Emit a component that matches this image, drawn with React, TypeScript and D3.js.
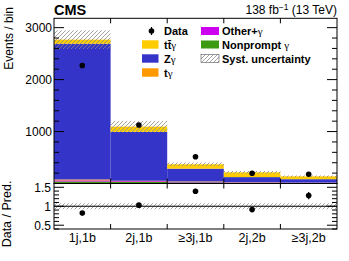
import React from 'react';
import * as d3 from 'd3';

// bins
const categories = ['1j,1b', '2j,1b', '\u22653j,1b', '2j,2b', '\u22653j,2b'];

// stacked predictions, bottom to top
const nonprompt = [38, 30, 22, 15, 10];
const otherG = [22, 15, 10, 7, 5];
const tG = [18, 8, 8, 4, 3];
const zG = [2612, 942, 246, 97, 65];
const ttG = [80, 100, 84, 92, 55];

const dataCounts = [2270, 1127, 516, 196, 177];
const systRel = [0.065, 0.1, 0.1, 0.12, 0.12];

const yTickLabels = [1000, 2000, 3000];
const ratioTickLabels = [0.5, 1, 1.5];

const keys = ['nonprompt', 'other', 'tg', 'zg', 'ttg'];
const colors: Record<string, string> = {
  nonprompt: '#3c9a12',
  other: '#cc00ee',
  tg: '#ff9900',
  zg: '#3434c8',
  ttg: '#ffcc00',
};

const W = 349, H = 261;
const L = 54, R = 337, T = 18.3, MID = 183.5, B = 229;

export default function App() {
  const x = d3.scaleBand<string>().domain(categories).range([L, R]).padding(0);
  const y = d3.scaleLinear().domain([0, 3180]).range([MID, T]);
  const yr = d3.scaleLinear().domain([0.4, 1.6]).range([B, MID]);

  const rows = categories.map((c, i) => ({
    cat: c,
    nonprompt: nonprompt[i],
    other: otherG[i],
    tg: tG[i],
    zg: zG[i],
    ttg: ttG[i],
  }));
  const series = d3.stack<any>().keys(keys)(rows);
  const totals = rows.map((r) => keys.reduce((s, k) => s + r[k], 0));

  const bw = x.bandwidth();
  const font = 'Liberation Sans, Arial, Helvetica, sans-serif';
  const gam = (s: string) => (
    <tspan fontFamily="Liberation Serif, serif" fontWeight="normal">{s}</tspan>
  );

  // ticks
  const upMinor = d3.range(0, 3180, 200);
  const upMajor = [0, 1000, 2000, 3000];
  const rMinor = d3.range(0.4, 1.61, 0.1);
  const edges = categories.slice(1).map((c) => x(c) as number);

  const legend1 = [
    { label: 'tt\u0304', g: '\u03b3', color: colors.ttg },
    { label: 'Z', g: '\u03b3', color: colors.zg },
    { label: 't', g: '\u03b3', color: colors.tg },
  ];
  const legend2 = [
    { label: 'Other+', g: '\u03b3', color: colors.other },
    { label: 'Nonprompt  ', g: '\u03b3', color: colors.nonprompt },
    { label: 'Syst. uncertainty', g: '', color: 'url(#hatch)' },
  ];
  const rowY = [31, 44.5, 58.5, 72.5];

  return (
    <svg width={W} height={H} style={{ position: 'absolute', left: 0, top: 0, background: '#fff' }} fontFamily={font}>
      <defs>
        <pattern id="hatch" patternUnits="userSpaceOnUse" width="4" height="4">
          <path d="M-1,1 l2,-2 M0,4 l4,-4 M3,5 l2,-2" stroke="#8a8a8a" strokeWidth="0.8" />
        </pattern>
        <clipPath id="upclip"><rect x={L} y={T} width={R - L} height={MID - T} /></clipPath>
        <clipPath id="rclip"><rect x={L} y={MID} width={R - L} height={B - MID} /></clipPath>
      </defs>

      {/* stacked histograms */}
      <g clipPath="url(#upclip)">
        {series.map((s) => (
          <g key={s.key} fill={colors[s.key]}>
            {s.map((d, i) => (
              <rect key={i} x={x(categories[i])} width={bw} y={y(d[1])} height={y(d[0]) - y(d[1])} />
            ))}
          </g>
        ))}
        {totals.map((t, i) => (
          <rect key={'u' + i} x={x(categories[i])} width={bw}
            y={y(t * (1 + systRel[i]))} height={y(t * (1 - systRel[i])) - y(t * (1 + systRel[i]))}
            fill="url(#hatch)" />
        ))}
      </g>

      {/* data points */}
      {dataCounts.map((d, i) => {
        const cx = (x(categories[i]) as number) + bw / 2;
        const e = Math.sqrt(d);
        return (
          <g key={'d' + i}>
            <line x1={cx} x2={cx} y1={y(d - e)} y2={y(d + e)} stroke="#000" strokeWidth={1.2} />
            <circle cx={cx} cy={y(d)} r={2.8} fill="#000" />
          </g>
        );
      })}

      {/* ratio pad */}
      <g clipPath="url(#rclip)">
        <rect x={L} width={R - L} y={yr(1 + 0.08)} height={yr(0.92) - yr(1.08)} fill="url(#hatch)" />
        <line x1={L} x2={R} y1={yr(1)} y2={yr(1)} stroke="#000" strokeWidth={1} />
      </g>
      {dataCounts.map((d, i) => {
        const cx = (x(categories[i]) as number) + bw / 2;
        const r = d / totals[i];
        const e = Math.sqrt(d) / totals[i];
        return (
          <g key={'r' + i}>
            <line x1={cx} x2={cx} y1={yr(r - e)} y2={yr(r + e)} stroke="#000" strokeWidth={1.2} />
            <circle cx={cx} cy={yr(r)} r={2.8} fill="#000" />
          </g>
        );
      })}

      {/* frames */}
      <g stroke="#000" strokeWidth={1} fill="none">
        <rect x={L} y={T} width={R - L} height={MID - T} />
        <rect x={L} y={MID} width={R - L} height={B - MID} />
        {upMinor.map((v) => {
          const len = upMajor.includes(v) ? 10 : 5;
          return (
            <g key={'ut' + v}>
              <line x1={L} x2={L + len} y1={y(v)} y2={y(v)} />
              <line x1={R} x2={R - len} y1={y(v)} y2={y(v)} />
            </g>
          );
        })}
        {rMinor.map((v, i) => {
          const major = Math.abs(v * 2 - Math.round(v * 2)) < 1e-6;
          const len = major ? 10 : 5;
          return (
            <g key={'rt' + i}>
              <line x1={L} x2={L + len} y1={yr(v)} y2={yr(v)} />
              <line x1={R} x2={R - len} y1={yr(v)} y2={yr(v)} />
            </g>
          );
        })}
        {edges.map((ex) => (
          <g key={'e' + ex}>
            <line x1={ex} x2={ex} y1={T} y2={T + 5} />
            <line x1={ex} x2={ex} y1={MID - 5} y2={MID + 5} />
            <line x1={ex} x2={ex} y1={B} y2={B - 5} />
          </g>
        ))}
      </g>

      {/* tick labels */}
      <g fontSize={12} textAnchor="end">
        {yTickLabels.map((v) => (
          <text key={v} x={L - 2} y={y(v) + 4.3}>{v}</text>
        ))}
        {ratioTickLabels.map((v) => (
          <text key={v} x={L - 3} y={yr(v) + 4.3}>{v}</text>
        ))}
      </g>
      <g fontSize={12.5} textAnchor="middle">
        {categories.map((c) => (
          <text key={c} x={(x(c) as number) + bw / 2} y={241.5}>{c}</text>
        ))}
      </g>

      {/* axis titles */}
      <text transform="translate(13,7) rotate(-90)" textAnchor="end" fontSize={12}>Events / bin</text>
      <text transform="translate(10.5,214) rotate(-90)" textAnchor="middle" fontSize={12.5}>Data / Pred.</text>

      {/* header */}
      <text x={L} y={15} fontSize={14.5} fontWeight="bold">CMS</text>
      <text x={R} y={13.5} fontSize={12} textAnchor="end">
        138 fb<tspan dy={-4} fontSize={8.5}>{'\u22121'}</tspan><tspan dy={4}> (13 TeV)</tspan>
      </text>

      {/* legend */}
      <g fontSize={11} fontWeight="bold">
        <circle cx={151.5} cy={rowY[0]} r={2.8} fill="#000" />
        <line x1={151.5} x2={151.5} y1={rowY[0] - 4} y2={rowY[0] + 4} stroke="#000" strokeWidth={1.2} />
        <text x={164} y={rowY[0] + 4}>Data</text>
        {legend1.map((l, i) => (
          <g key={l.label}>
            <rect x={142} y={rowY[i + 1] - 4.2} width={16.5} height={8.4} fill={l.color} />
            <text x={164} y={rowY[i + 1] + 4}>{l.label}{gam(l.g)}</text>
          </g>
        ))}
        {legend2.map((l, i) => (
          <g key={l.label}>
            <rect x={201} y={rowY[i] - 4} width={18} height={8} fill={l.color}
              stroke={l.g === '' ? '#555' : 'none'} strokeWidth={0.6} />
            <text x={222} y={rowY[i] + 4}>{l.label}{l.g ? gam(l.g) : null}</text>
          </g>
        ))}
      </g>
    </svg>
  );
}
